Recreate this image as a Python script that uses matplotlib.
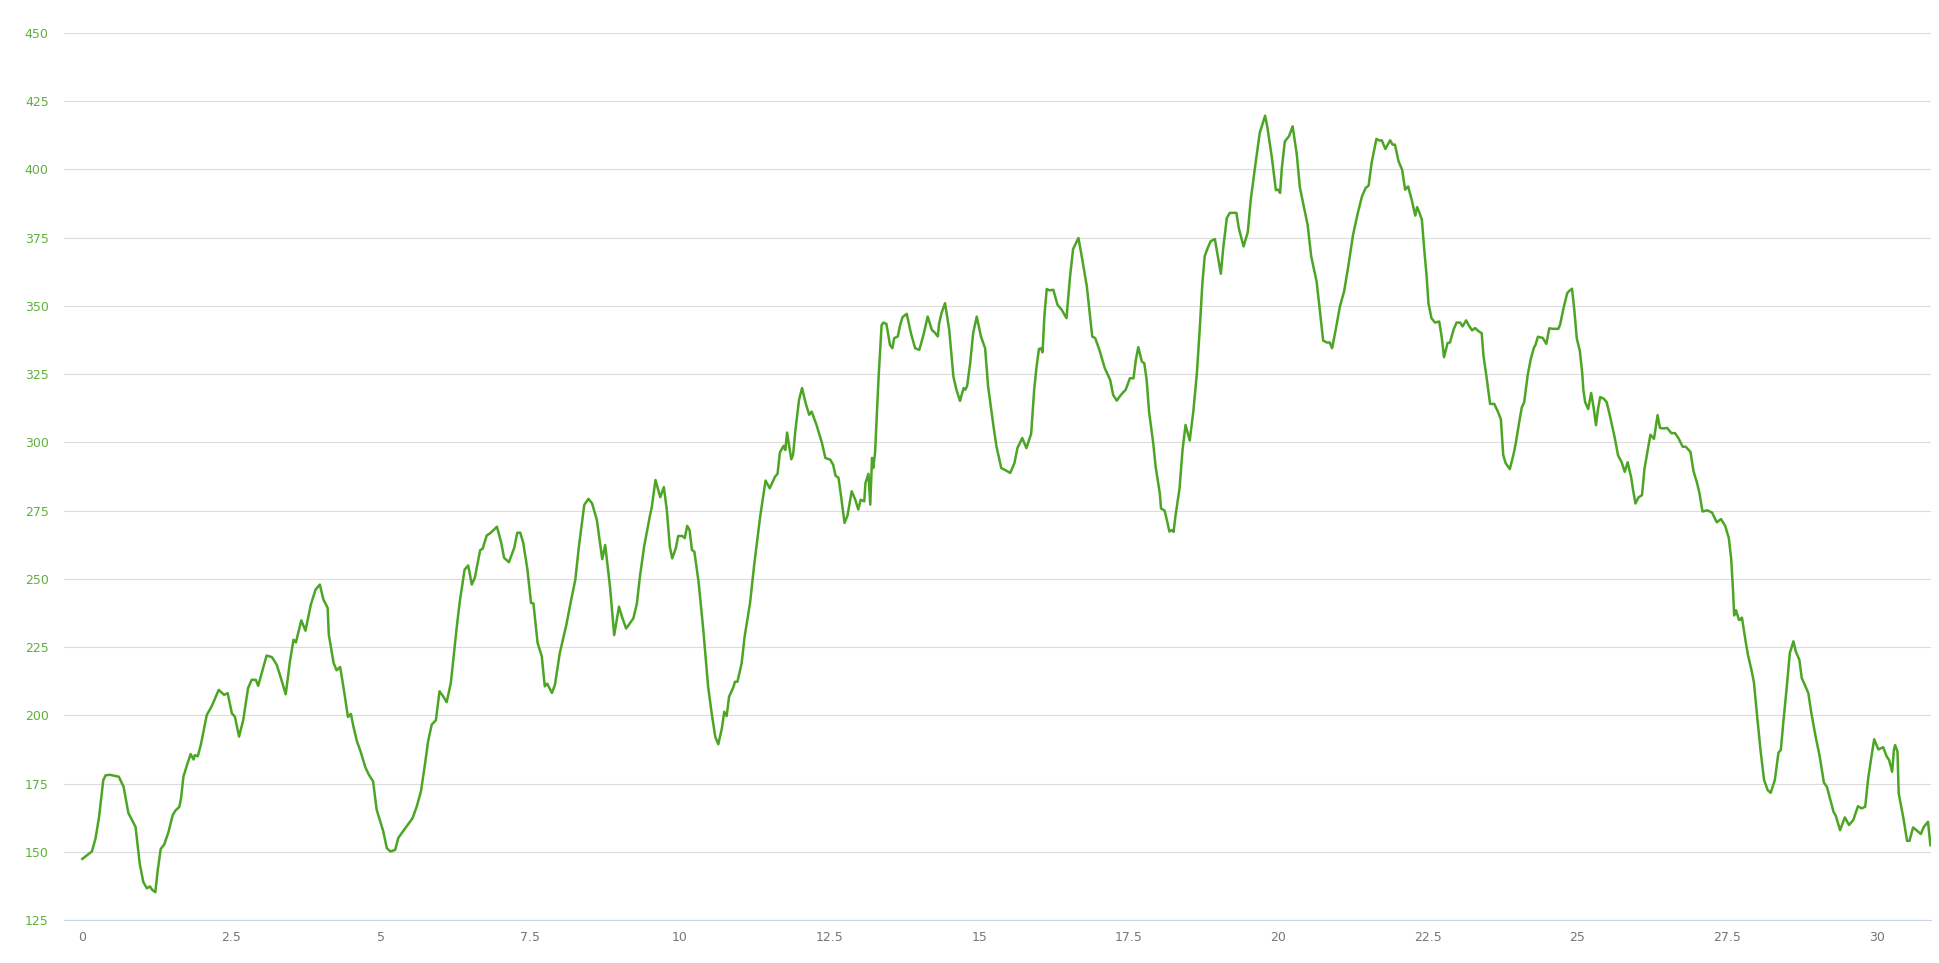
import matplotlib
matplotlib.use("Agg")
import matplotlib.pyplot as plt

# distance (x) and elevation (y)
dist = [
    0.01, 0.17, 0.23, 0.29, 0.36, 0.40, 0.47, 0.62, 0.70, 0.78, 0.90, 0.97, 1.03, 1.09, 1.14, 1.18,
    1.23, 1.27, 1.32, 1.38, 1.45, 1.52, 1.57, 1.63, 1.66, 1.70, 1.75, 1.82, 1.87, 1.89, 1.94, 1.99,
    2.09, 2.17, 2.29, 2.38, 2.44, 2.51, 2.56, 2.63, 2.70, 2.78, 2.84, 2.91, 2.95, 3.04, 3.09, 3.18,
    3.26, 3.33, 3.41, 3.48, 3.54, 3.58, 3.67, 3.74, 3.83, 3.91,
    3.98, 4.04, 4.11, 4.13, 4.21, 4.26, 4.32, 4.39, 4.45, 4.50, 4.54, 4.60, 4.66, 4.74, 4.80, 4.87,
    4.93, 5.04, 5.10, 5.16, 5.24, 5.29, 5.39, 5.53, 5.60, 5.67, 5.74, 5.79, 5.85, 5.92, 5.98, 6.04,
    6.10, 6.17, 6.23, 6.27, 6.32, 6.40, 6.46, 6.52, 6.57, 6.66, 6.70, 6.77, 6.82, 6.88, 6.94, 7.01,
    7.06, 7.14, 7.23, 7.28, 7.33, 7.38, 7.45, 7.51, 7.55, 7.62, 7.69, 7.74, 7.78, 7.86, 7.91,
    7.99, 8.10, 8.18, 8.25, 8.31, 8.40, 8.47, 8.53, 8.61, 8.70, 8.75, 8.83, 8.90, 8.98, 9.03, 9.10,
    9.22, 9.28, 9.33, 9.40, 9.50, 9.53, 9.59, 9.67, 9.73, 9.78, 9.83, 9.87, 9.93, 9.97, 10.04, 10.08,
    10.12, 10.16, 10.20, 10.24, 10.31, 10.39, 10.47, 10.53, 10.59, 10.64, 10.70, 10.74, 10.78, 10.82,
    10.89, 10.92, 10.96, 11.03, 11.08, 11.17, 11.24, 11.34, 11.43, 11.50, 11.59, 11.63, 11.67, 11.73,
    11.76, 11.79, 11.86, 11.89, 11.93,
    11.99, 12.04, 12.10, 12.16, 12.20, 12.28, 12.37, 12.43, 12.51, 12.56, 12.60, 12.65, 12.70, 12.75,
    12.80, 12.87, 12.93, 12.98, 13.02, 13.08, 13.10, 13.15, 13.18, 13.21, 13.23, 13.26, 13.32, 13.37,
    13.40, 13.45, 13.51, 13.55, 13.58, 13.64, 13.68, 13.72, 13.79, 13.86, 13.93, 14.00, 14.07, 14.14,
    14.21, 14.26, 14.31, 14.33, 14.37, 14.43, 14.50, 14.57, 14.62, 14.68, 14.74, 14.77, 14.80, 14.85,
    14.90, 14.96, 15.03, 15.10, 15.15, 15.24, 15.29, 15.37, 15.44, 15.52, 15.59, 15.64, 15.72, 15.79,
    15.87, 15.92,
    15.96, 16.00, 16.03, 16.06, 16.09, 16.13, 16.17, 16.24, 16.31, 16.38, 16.46, 16.52, 16.57, 16.66,
    16.72, 16.80, 16.89, 16.94, 17.01, 17.10, 17.19, 17.24, 17.30, 17.37, 17.45, 17.52, 17.58, 17.62,
    17.66, 17.72, 17.76, 17.80, 17.84, 17.91, 17.95, 18.02, 18.04, 18.10, 18.15, 18.18, 18.22, 18.25,
    18.28, 18.35, 18.40, 18.45, 18.52, 18.58, 18.64, 18.69, 18.73, 18.77, 18.82, 18.87, 18.94, 18.99,
    19.04, 19.08, 19.14, 19.19, 19.30, 19.34, 19.42, 19.49, 19.54, 19.61, 19.69, 19.78, 19.82, 19.89,
    19.96, 20.00, 20.03,
    20.06, 20.11, 20.18, 20.24, 20.31, 20.36, 20.42, 20.49, 20.55, 20.64, 20.70, 20.75, 20.81, 20.86,
    20.90, 20.96, 21.03, 21.10, 21.17, 21.25, 21.33, 21.40, 21.46, 21.51, 21.56, 21.62, 21.64, 21.69,
    21.73, 21.79, 21.87, 21.91, 21.95, 22.01, 22.07, 22.12, 22.17, 22.23, 22.29, 22.32, 22.35, 22.40,
    22.44, 22.48, 22.51, 22.56, 22.62, 22.69, 22.73, 22.77, 22.83, 22.87, 22.93, 22.98, 23.04, 23.08,
    23.14, 23.19, 23.24, 23.29, 23.35, 23.40, 23.43, 23.48, 23.54, 23.61, 23.67, 23.72, 23.76, 23.80,
    23.87, 23.93, 23.97,
    24.03, 24.07, 24.11, 24.17, 24.22, 24.27, 24.30, 24.34, 24.42, 24.48, 24.53, 24.59, 24.68, 24.71,
    24.77, 24.83, 24.86, 24.91, 24.95, 24.99, 25.04, 25.08, 25.10, 25.13, 25.18, 25.23, 25.27, 25.31,
    25.34, 25.38, 25.44, 25.49, 25.55, 25.62, 25.68, 25.74, 25.79, 25.84, 25.90, 25.93, 25.97, 26.02,
    26.08, 26.12, 26.18, 26.22, 26.28, 26.34, 26.38, 26.44, 26.50, 26.57, 26.63, 26.69, 26.76, 26.81,
    26.89, 26.94, 27.00, 27.04, 27.09, 27.17, 27.25, 27.33, 27.40, 27.47, 27.53, 27.57, 27.60, 27.62,
    27.65, 27.70, 27.72, 27.75, 27.81, 27.85, 27.91, 27.95,
    28.01, 28.06, 28.12, 28.18, 28.23, 28.30, 28.36, 28.40, 28.44, 28.50, 28.55, 28.61, 28.65, 28.71,
    28.75, 28.80, 28.86, 28.91, 28.98, 29.05, 29.12, 29.17, 29.22, 29.28, 29.32, 29.39, 29.47, 29.54,
    29.61, 29.69, 29.75, 29.81, 29.86, 29.91, 29.96, 30.03, 30.11, 30.17, 30.21, 30.26, 30.29, 30.31,
    30.35, 30.37, 30.45, 30.51, 30.55, 30.61, 30.70, 30.74, 30.79, 30.86, 30.90,
]
elev = [
    147.4, 150.1, 154.8, 162.7, 176.2, 178.0, 178.2, 177.5, 173.8, 164.2, 159.1, 145.6, 138.9, 136.6, 137.3, 136.0,
    135.2, 143.1, 151.0, 152.7, 157.2, 163.4, 165.2, 166.4, 169.5, 177.5, 181.1, 185.8, 183.8, 185.4, 185.0, 189.1,
    200.1, 203.2, 209.3, 207.5, 208.1, 200.7, 199.5, 192.2, 198.3, 209.9, 213.0, 213.0, 210.8, 217.9, 221.9, 221.3,
    218.5, 213.6, 207.7, 219.7, 227.7, 226.7, 234.8, 231.0, 240.6, 246.1,
    247.9, 242.4, 239.4, 229.6, 219.2, 216.5, 217.7, 208.2, 199.4, 200.5, 196.0, 190.5, 186.8, 181.0, 178.2, 175.8,
    165.4, 157.5, 151.3, 150.1, 150.7, 155.0, 158.1, 162.3, 166.6, 172.1, 182.5, 190.5, 196.6, 198.2, 208.8, 207.0,
    204.8, 211.9, 224.1, 232.6, 241.8, 253.4, 254.9, 247.9, 250.4, 260.5, 261.0, 265.9, 266.6, 267.8, 269.1, 263.4,
    257.7, 256.1, 261.4, 266.9, 266.9, 263.2, 253.4, 241.2, 241.0, 226.5, 221.6, 210.6, 211.6, 208.2, 211.2,
    222.7, 233.1, 242.2, 249.6, 261.8, 277.1, 279.3, 277.7, 271.6, 257.2, 262.4, 247.1, 229.4, 239.8, 236.1, 231.8,
    235.5, 241.0, 250.8, 261.8, 273.4, 276.5, 286.2, 279.9, 283.6, 275.2, 261.8, 257.5, 261.2, 265.7, 265.7, 264.9,
    269.4, 267.9, 260.6, 260.0, 249.0, 231.2, 210.5, 200.7, 192.1, 189.4, 195.2, 201.3, 199.7, 206.8,
    210.2, 212.3, 212.3, 219.0, 228.8, 241.0, 255.1, 272.8, 286.0, 283.2, 287.5, 288.4, 296.3, 298.7,
    297.2, 303.6, 293.8, 295.4, 304.6,
    315.6, 319.9, 314.4, 310.1, 311.3, 306.5, 300.0, 294.3, 293.7, 291.8, 287.8, 287.0, 279.0, 270.5,
    273.2, 282.1, 279.0, 275.4, 279.0, 278.4, 285.1, 288.5, 277.2, 294.3, 290.6, 296.1, 324.1, 343.0,
    343.9, 343.4, 335.7, 334.5, 338.2, 338.8, 343.0, 345.9, 347.1, 340.0, 334.5, 333.9, 339.4, 346.1,
    341.2, 340.2, 338.8, 343.4, 347.3, 351.0, 341.2, 324.1, 319.3, 315.2, 319.9, 319.3, 320.7, 329.0,
    340.0, 346.1, 338.8, 334.5, 320.5, 305.9, 298.5, 290.6, 289.8, 288.8, 292.4, 297.9, 301.6, 297.9,
    303.2, 319.3,
    327.8, 334.2, 334.5, 333.0, 346.1, 356.2, 355.7, 355.9, 350.4, 348.6, 345.5, 360.8, 370.8, 374.9,
    367.5, 357.2, 338.8, 338.2, 333.9, 327.2, 322.9, 317.4, 315.3, 317.4, 319.3, 323.5, 323.5, 330.3,
    334.9, 329.6, 329.0, 322.9, 311.3, 299.7, 291.1, 281.3, 275.8, 275.0, 270.4, 267.3, 267.9, 267.2,
    272.8, 283.2, 297.3, 306.4, 300.7, 311.3, 325.4, 342.5, 357.8, 368.2, 371.2, 373.7, 374.5, 368.2,
    361.8, 371.2, 382.2, 384.1, 384.1, 378.5, 371.8, 377.0, 388.9, 400.6, 413.4, 419.7, 415.2, 404.8,
    392.4, 392.6, 391.4,
    400.6, 410.3, 412.2, 415.8, 405.4, 393.6, 387.1, 379.8, 368.2, 359.0, 347.4, 337.3, 336.6, 336.6,
    334.5, 341.3, 349.8, 355.3, 364.5, 376.1, 384.1, 390.2, 393.2, 394.1, 402.4, 409.1, 411.2, 410.6,
    410.7, 407.5, 410.7, 409.1, 409.1, 403.0, 399.9, 392.6, 393.8, 388.9, 383.1, 386.2, 384.7, 381.6,
    370.6, 360.8, 351.0, 345.5, 343.9, 344.3, 338.8, 331.2, 336.4, 336.6, 341.3, 343.9, 343.9, 342.5,
    344.7, 342.7, 341.0, 341.9, 340.7, 340.0, 331.7, 324.1, 314.1, 314.1, 311.3, 308.5, 295.4, 292.4,
    290.2, 295.4, 299.7,
    307.8, 312.8, 314.7, 324.8, 330.5, 334.5, 335.8, 338.7, 338.3, 336.1, 341.8, 341.6, 341.6, 343.1,
    349.4, 354.7, 355.4, 356.3, 348.1, 338.0, 333.6, 325.4, 319.1, 314.7, 312.2, 318.1, 312.8, 306.3,
    311.6, 316.6, 316.0, 314.7, 309.1, 302.1, 295.2, 292.7, 289.2, 292.7, 287.0, 282.6, 277.6, 279.8,
    280.7, 290.2, 297.7, 302.8, 301.3, 310.0, 305.3, 305.1, 305.3, 303.4, 303.4, 301.5, 298.4, 298.4,
    296.5, 289.5, 285.1, 281.4, 274.7, 275.1, 274.3, 270.7, 271.9, 269.4, 265.0, 257.4, 246.1, 236.6,
    238.5, 235.0, 235.0, 235.8, 227.3, 222.2, 216.5, 212.1,
    198.3, 187.3, 176.3, 172.6, 171.6, 176.3, 186.3, 187.3, 197.1, 210.6, 222.8, 227.1, 223.4, 220.3,
    213.6, 211.2, 208.1, 200.8, 192.4, 184.9, 175.3, 173.8, 169.6, 164.7, 163.1, 157.9, 162.6, 159.8,
    161.6, 166.7, 165.9, 166.5, 176.9, 184.2, 191.2, 187.5, 188.3, 184.9, 183.6, 179.3, 187.3, 189.1,
    186.7, 171.4, 162.2, 154.0, 154.0, 158.9, 157.3, 156.5, 159.1, 161.0, 152.4,
]

x_ticks = [0, 2.5, 5, 7.5, 10, 12.5, 15, 17.5, 20, 22.5, 25, 27.5, 30]
x_labels = ["0", "2.5", "5", "7.5", "10", "12.5", "15", "17.5", "20", "22.5", "25", "27.5", "30"]
y_ticks = list(range(125, 451, 25))

GREEN = "#4ca524"

fig = plt.figure(figsize=(19.4, 9.63), dpi=100)
ax = fig.add_axes([64 / 1940, 1 - 920 / 963, (1931 - 64) / 1940, (920 - 33) / 963])

ax.plot(dist, elev, color=GREEN, linewidth=1.8, solid_joinstyle="round")

ax.set_xlim(-0.296, 30.91)
ax.set_ylim(125, 450)
ax.set_xticks(x_ticks)
ax.set_xticklabels(x_labels)
ax.set_yticks(y_ticks)

ax.yaxis.grid(True, color="#dcdcdc", linewidth=0.8)
ax.set_axisbelow(True)
for side in ["top", "right", "left"]:
    ax.spines[side].set_visible(False)
ax.spines["bottom"].set_color("#ccd6eb")
ax.spines["bottom"].set_linewidth(0.8)

ax.tick_params(axis="y", length=0, pad=11, labelsize=9, labelcolor="#5fb03a")
ax.tick_params(axis="x", length=0, pad=8, labelsize=9, labelcolor="#777777")

fig.savefig("out.png", dpi=100, facecolor="white")
